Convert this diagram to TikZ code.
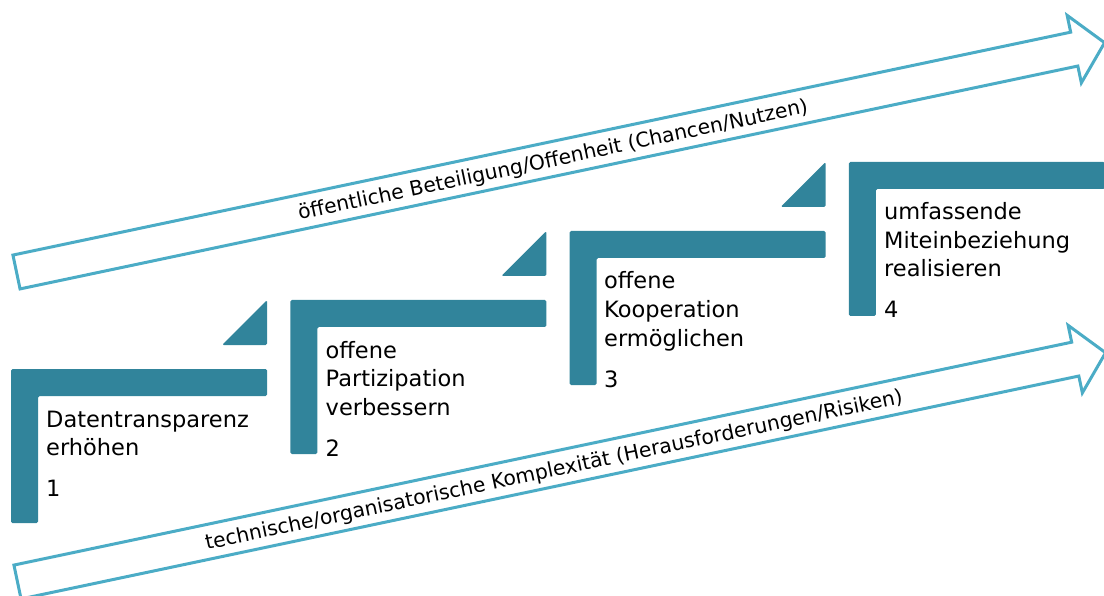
\documentclass[tikz,border=0pt]{standalone}
\usepackage{fontspec}
\setmainfont{DejaVu Sans}
\definecolor{stepteal}{HTML}{31849B}
\definecolor{arrowblue}{HTML}{4BACC6}
\tikzset{
  stepshape/.style={fill=stepteal, draw=none, rounded corners=1.5pt},
  arrowshape/.style={draw=arrowblue, line width=3pt, fill=white, line join=miter},
  steptext/.style={anchor=base west, inner sep=0pt, text=black,
    font=\fontsize{22.5}{28}\selectfont},
  arrowtext/.style={anchor=base, inner sep=0pt, rotate=11.9, text=black,
    font=\fontsize{20.3}{24}\selectfont},
}
\begin{document}
\begin{tikzpicture}[x=1pt, y=-1pt]
\useasboundingbox (0,0) rectangle (1104,596);

% upper outline arrow: benefits
\begin{scope}[shift={(16.5,272)}, rotate=11.9]
  \draw[arrowshape] (0,-17.3) -- (1081,-17.3) -- (1081,-34.5) -- (1112,0)
    -- (1081,34.5) -- (1081,17.3) -- (0,17.3) -- cycle;
  \node[arrowtext] (nutzen) at (548,7.5)
    {öffentliche Beteiligung/Offenheit (Chancen/Nutzen)};
\end{scope}

% lower outline arrow: risks
\begin{scope}[shift={(17.5,582)}, rotate=11.9]
  \draw[arrowshape] (0,-17.3) -- (1081,-17.3) -- (1081,-34.5) -- (1112,0)
    -- (1081,34.5) -- (1081,17.3) -- (0,17.3) -- cycle;
  \node[arrowtext] (risiken) at (548,7.5)
    {technische/organisatorische Komplexität (Herausforderungen/Risiken)};
\end{scope}

% stair steps (half frames)
\foreach \xa/\ya in {11/369, 290.3/300, 569.6/231, 848.9/162} {
  \fill[stepshape] (\xa,\ya) -- ++(256,0) -- ++(0,27) -- ++(-229,0)
    -- ++(0,127) -- ++(-27,0) -- cycle;
}
% small corner triangles between the steps
\foreach \xr/\yb in {267/345, 546.3/276, 825.6/207} {
  \fill[stepshape] (\xr,\yb) -- ++(-45,0) -- ++(45,-45) -- cycle;
}

% step 1
\node[steptext] (s1a) at (46,427)   {Datentransparenz};
\node[steptext] (s1b) at (46,455.5) {erhöhen};
\node[steptext] (s1n) at (46,496.5) {1};
% step 2
\node[steptext] (s2a) at (325.5,358)   {offene};
\node[steptext] (s2b) at (325.5,386.5) {Partizipation};
\node[steptext] (s2c) at (325.5,415)   {verbessern};
\node[steptext] (s2n) at (325.5,456)   {2};
% step 3
\node[steptext] (s3a) at (604,288.5) {offene};
\node[steptext] (s3b) at (604,317.5) {Kooperation};
\node[steptext] (s3c) at (604,346)   {ermöglichen};
\node[steptext] (s3n) at (604,387)   {3};
% step 4
\node[steptext] (s4a) at (884,220)   {umfassende};
\node[steptext] (s4b) at (884,248.5) {Miteinbeziehung};
\node[steptext] (s4c) at (884,277)   {realisieren};
\node[steptext] (s4n) at (884,317.5) {4};
\end{tikzpicture}
\end{document}
